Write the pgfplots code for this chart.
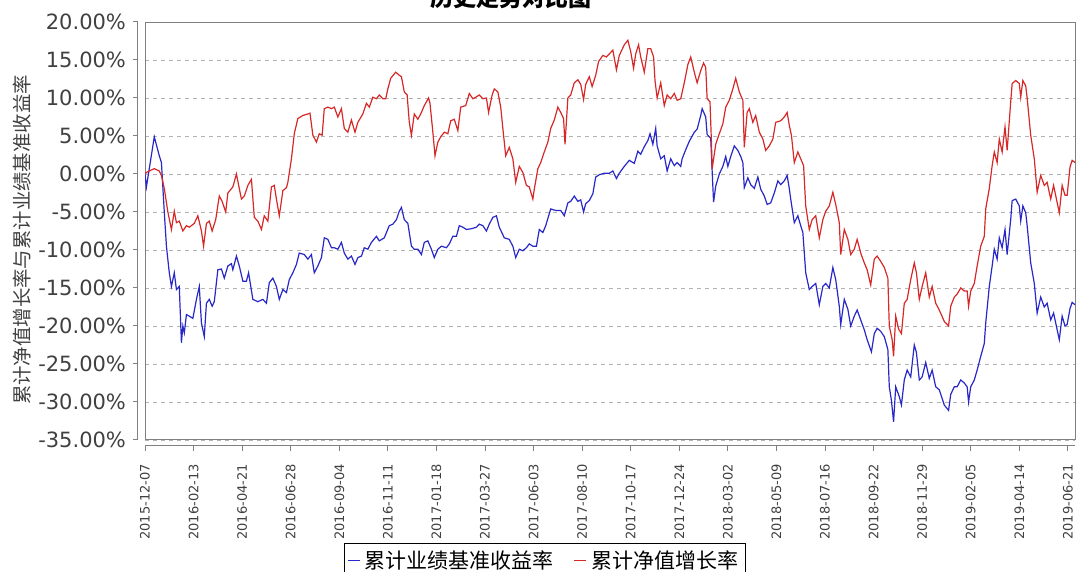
\documentclass[border=0pt]{standalone}
\usepackage{fontspec}
\setmainfont{DejaVu Sans}
\newfontfamily\cjk{Noto Sans CJK SC}
\usepackage{pgfplots}
\pgfplotsset{compat=1.18}

\definecolor{benchblue}{RGB}{40,40,200}
\definecolor{navred}{RGB}{215,40,40}
\definecolor{framegray}{RGB}{128,128,128}
\definecolor{labelgray}{RGB}{64,64,64}

% 1 px of the source = 0.5pt
\pgfplotsset{
  common/.style={
    scale only axis, width=465pt, height=209pt,
    xmin=0, xmax=1302, ymin=-35, ymax=20,
  },
}

\begin{document}
\begin{tikzpicture}
\path[use as bounding box] (0,0) rectangle (538.5pt,286pt);

% title (top is cut off, as in the source)
\node[anchor=base, font=\cjk\bfseries\fontsize{11.5}{13}\selectfont] at (255.5pt,282.5pt) {历史走势对比图};

% y axis label
\node[rotate=90, text=labelgray, font=\cjk\fontsize{9.7}{11}\selectfont] at (11pt,166pt) {累计净值增长率与累计业绩基准收益率};

% plot area with data
\begin{axis}[
  common,
  at={(72.5pt,66pt)}, anchor=south west,
  xtick=\empty,
  ytick={-35,-30,...,20}, yticklabels={},
  major tick length=0pt,
  ymajorgrids,
  grid style={framegray!60, dash pattern=on 2pt off 2pt, line width=0.4pt},
  axis line style={framegray, line width=0.5pt},
  legend columns=2,
  legend style={at={(0.43,-0.246)}, anchor=north, draw=black, line width=0.5pt,
    font=\cjk\fontsize{10.5}{12.5}\selectfont, inner sep=1.5pt,
    /tikz/every even column/.append style={column sep=8pt}},
  legend image code/.code={\draw[#1] (0pt,0pt) -- (6pt,0pt);},
]
% 累计业绩基准收益率 (x = days after 2015-12-07)
\addplot[benchblue, line width=0.6pt] coordinates {
(0,0.0) (2,-1.7) (13,4.9) (20,2.4) (23,1.5) (27,-5.0) (30,-9.5) (34,-13.0) (37,-14.8) (41,-13.0) (44,-15.2) (48,-14.8) (51,-22.2) (53,-20.0) (55,-20.9) (58,-18.5) (62,-18.7) (67,-19.0) (72,-16.5) (76,-14.8) (79,-19.6) (83,-21.4) (86,-17.0) (90,-16.5) (94,-17.4) (97,-16.8) (102,-12.6) (107,-12.5) (111,-13.7) (116,-12.1) (121,-11.8) (123,-12.6) (128,-10.8) (132,-12.1) (137,-14.1) (142,-14.1) (145,-13.0) (151,-16.5) (158,-16.8) (165,-16.5) (170,-17.0) (174,-14.3) (179,-13.7) (184,-14.8) (188,-16.5) (193,-15.2) (198,-15.6) (202,-13.9) (207,-13.0) (212,-11.9) (216,-10.4) (223,-10.6) (228,-11.2) (233,-10.6) (237,-13.0) (242,-12.1) (247,-11.0) (251,-8.4) (256,-8.6) (261,-9.7) (265,-9.7) (270,-9.9) (275,-9.0) (279,-10.4) (284,-11.2) (289,-10.8) (294,-11.9) (298,-11.0) (303,-10.8) (307,-9.7) (312,-9.9) (317,-9.0) (324,-8.2) (328,-8.8) (335,-8.4) (342,-6.8) (347,-6.6) (352,-6.0) (356,-4.9) (359,-4.4) (363,-6.0) (368,-6.5) (373,-9.5) (377,-9.9) (382,-9.9) (387,-10.6) (391,-9.0) (396,-8.8) (401,-9.9) (405,-11.0) (410,-9.9) (415,-9.5) (422,-9.7) (426,-9.2) (431,-8.2) (436,-8.2) (440,-6.8) (445,-7.0) (450,-7.3) (457,-7.2) (464,-7.0) (468,-6.6) (473,-6.8) (478,-7.5) (482,-6.6) (487,-5.7) (492,-5.5) (496,-7.0) (503,-8.4) (510,-8.6) (515,-9.5) (519,-11.0) (524,-9.9) (529,-10.1) (534,-9.7) (538,-9.2) (543,-9.5) (548,-9.5) (552,-7.3) (557,-7.7) (561,-6.8) (568,-4.6) (575,-4.8) (582,-4.8) (587,-5.5) (592,-3.8) (596,-3.6) (601,-2.9) (606,-3.6) (610,-3.4) (614,-5.0) (617,-3.9) (622,-3.5) (627,-2.6) (631,-0.4) (636,-0.1) (643,0.1) (650,0.1) (655,0.4) (660,-0.6) (664,0.1) (671,1.0) (678,1.8) (685,1.4) (690,3.0) (694,2.6) (699,3.6) (704,4.4) (707,5.3) (711,3.9) (715,6.0) (717,3.7) (722,2.0) (727,2.4) (731,0.4) (736,2.0) (741,1.1) (745,1.5) (750,1.0) (752,2.0) (757,3.2) (762,4.3) (769,5.5) (773,5.9) (778,7.7) (780,8.6) (785,7.5) (787,5.2) (792,4.7) (794,0.4) (796,-3.7) (799,-1.6) (804,0.0) (809,1.0) (813,2.3) (816,1.0) (820,2.3) (825,3.7) (830,3.1) (834,2.3) (837,1.5) (839,-1.8) (844,-0.5) (848,-1.4) (853,-1.9) (858,-0.4) (862,-2.0) (867,-2.9) (871,-4.0) (876,-3.8) (881,-2.5) (886,-0.9) (890,-1.4) (895,-0.9) (899,-0.2) (902,-1.9) (904,-3.3) (909,-6.4) (914,-5.5) (918,-6.8) (921,-7.7) (925,-13.0) (930,-15.2) (934,-14.8) (939,-14.4) (944,-17.2) (949,-14.8) (953,-14.4) (958,-15.0) (963,-12.3) (967,-13.9) (972,-17.4) (974,-19.8) (979,-16.5) (984,-17.8) (988,-20.0) (993,-18.7) (997,-17.9) (1002,-19.2) (1007,-20.5) (1011,-21.8) (1017,-23.4) (1021,-21.0) (1025,-20.3) (1030,-20.7) (1035,-21.4) (1040,-23.1) (1042,-28.0) (1045,-29.8) (1048,-32.6) (1051,-28.0) (1056,-29.3) (1059,-30.4) (1063,-27.1) (1067,-25.8) (1072,-26.7) (1077,-22.5) (1080,-23.5) (1084,-27.1) (1088,-26.7) (1093,-24.8) (1098,-26.9) (1102,-25.8) (1107,-28.0) (1112,-28.4) (1119,-30.4) (1125,-31.1) (1128,-29.0) (1133,-28.0) (1137,-28.0) (1142,-27.1) (1147,-27.5) (1151,-28.0) (1153,-30.0) (1156,-28.0) (1161,-27.1) (1165,-25.8) (1170,-24.0) (1175,-22.3) (1177,-19.6) (1182,-14.8) (1186,-12.1) (1189,-9.9) (1193,-11.2) (1196,-8.4) (1200,-9.7) (1204,-7.3) (1207,-10.6) (1212,-6.0) (1214,-3.5) (1219,-3.3) (1224,-4.2) (1226,-6.2) (1229,-4.2) (1233,-5.1) (1235,-6.8) (1240,-11.7) (1245,-14.4) (1249,-18.3) (1254,-16.2) (1259,-17.5) (1263,-17.0) (1268,-19.2) (1272,-18.3) (1280,-21.8) (1284,-18.7) (1288,-20.0) (1291,-19.8) (1295,-17.7) (1298,-16.9) (1302,-17.2)
};
\addlegendentry{累计业绩基准收益率}
% 累计净值增长率
\addplot[navred, line width=0.6pt] coordinates {
(0,0.0) (2,0.2) (6,0.4) (13,0.7) (20,0.4) (23,-0.2) (27,-1.9) (32,-5.0) (37,-7.3) (41,-4.9) (44,-6.4) (48,-6.2) (53,-7.5) (58,-6.8) (62,-7.0) (69,-6.5) (74,-5.5) (79,-7.5) (82,-9.5) (86,-6.5) (90,-6.2) (94,-7.5) (99,-6.0) (104,-2.9) (108,-3.6) (113,-5.0) (116,-2.5) (123,-1.7) (128,0.0) (132,-1.9) (135,-3.3) (139,-2.9) (144,-1.5) (149,-0.7) (153,-5.7) (158,-6.2) (163,-7.3) (167,-5.5) (172,-6.2) (177,-1.7) (181,-1.5) (184,-3.3) (188,-5.5) (193,-2.2) (198,-1.8) (200,-1.1) (205,2.0) (209,5.3) (214,7.3) (221,7.7) (228,7.9) (231,8.0) (235,5.1) (240,4.2) (244,5.3) (248,5.1) (251,8.6) (256,8.8) (261,8.6) (265,8.8) (270,7.5) (275,8.6) (279,6.0) (284,5.5) (289,7.1) (294,5.5) (298,6.8) (305,7.9) (310,9.3) (314,8.8) (319,10.1) (324,9.9) (328,10.4) (333,9.9) (337,9.9) (340,11.2) (344,12.6) (351,13.4) (356,13.0) (359,12.8) (363,10.8) (367,10.4) (370,6.8) (373,5.1) (377,7.9) (382,7.2) (387,8.1) (391,9.0) (397,10.0) (399,9.3) (403,5.5) (406,2.4) (410,4.2) (414,4.9) (419,5.5) (424,5.3) (428,7.0) (433,7.2) (438,5.7) (442,8.8) (449,9.0) (454,10.6) (459,9.9) (463,10.1) (468,10.4) (473,9.9) (478,10.0) (481,8.1) (486,10.4) (489,11.2) (494,10.8) (498,8.8) (501,6.0) (505,2.4) (510,3.5) (515,2.0) (519,-1.1) (524,1.0) (529,0.2) (534,-1.5) (538,-1.7) (543,-3.3) (545,-2.0) (550,0.7) (554,1.5) (559,2.9) (564,4.2) (568,6.0) (573,7.1) (578,8.8) (582,8.1) (586,7.3) (588,3.9) (592,10.0) (596,10.4) (601,12.0) (606,12.4) (610,11.8) (614,9.8) (617,11.8) (622,12.8) (626,11.5) (631,13.0) (635,14.8) (641,15.6) (646,15.4) (650,15.8) (655,16.3) (660,13.7) (664,15.6) (671,17.0) (676,17.6) (680,16.1) (684,13.9) (687,15.8) (691,17.0) (694,15.4) (699,13.4) (704,16.5) (708,16.5) (712,15.4) (714,12.3) (717,10.0) (722,12.0) (727,9.0) (731,10.4) (736,9.9) (741,10.6) (745,9.7) (750,9.9) (755,12.0) (760,14.4) (764,15.4) (769,13.4) (773,12.0) (778,13.6) (782,14.6) (785,14.0) (787,9.9) (791,9.5) (793,4.2) (794,0.7) (799,3.9) (804,5.3) (809,6.6) (813,8.8) (818,9.7) (823,11.2) (827,12.6) (832,10.8) (837,9.7) (839,3.5) (843,8.1) (846,8.6) (851,6.8) (855,7.7) (860,5.5) (865,4.6) (869,3.1) (874,3.7) (879,4.6) (883,6.8) (890,7.0) (895,7.5) (899,8.1) (902,6.4) (905,5.1) (909,1.5) (914,2.9) (918,2.0) (922,1.1) (925,-4.2) (930,-7.3) (934,-6.0) (939,-5.5) (944,-8.4) (949,-6.0) (953,-4.9) (958,-4.2) (963,-2.4) (967,-4.0) (972,-6.4) (974,-10.6) (979,-7.3) (984,-8.6) (988,-10.6) (993,-9.9) (997,-8.6) (1002,-10.4) (1007,-11.7) (1011,-12.6) (1016,-14.6) (1021,-11.2) (1025,-10.8) (1030,-11.5) (1035,-12.3) (1040,-13.7) (1042,-20.0) (1046,-21.8) (1048,-24.0) (1051,-18.7) (1055,-20.4) (1059,-21.0) (1063,-17.0) (1067,-16.5) (1072,-13.9) (1077,-11.7) (1080,-13.0) (1084,-16.5) (1088,-14.8) (1093,-13.0) (1098,-16.2) (1102,-14.8) (1107,-17.0) (1112,-17.9) (1119,-19.4) (1125,-20.0) (1128,-17.4) (1133,-16.2) (1137,-15.8) (1142,-15.0) (1147,-15.4) (1151,-15.4) (1153,-17.4) (1156,-15.4) (1161,-14.4) (1165,-12.1) (1170,-9.5) (1175,-8.2) (1177,-4.6) (1182,-1.9) (1186,1.1) (1189,2.9) (1193,1.5) (1196,4.6) (1200,2.9) (1204,6.2) (1207,3.1) (1212,9.5) (1214,11.9) (1219,12.3) (1224,11.9) (1226,10.1) (1229,12.3) (1233,11.6) (1235,10.0) (1240,5.1) (1245,2.0) (1249,-2.4) (1254,-0.2) (1259,-1.5) (1263,-1.1) (1268,-3.3) (1272,-1.5) (1280,-5.1) (1284,-1.5) (1288,-2.8) (1291,-2.8) (1295,0.9) (1298,1.8) (1302,1.5)
};
\addlegendentry{累计净值增长率}
\end{axis}

% offset y axis (left)
\begin{axis}[
  common,
  at={(69pt,66pt)}, anchor=south west,
  axis x line=none, axis y line*=left,
  y axis line style={framegray, line width=0.5pt, -},
  ytick={-35,-30,...,20},
  yticklabels={-35.00\%,-30.00\%,-25.00\%,-20.00\%,-15.00\%,-10.00\%,-5.00\%,0.00\%,5.00\%,10.00\%,15.00\%,20.00\%},
  tick align=outside, major tick length=2.5pt,
  ytick style={framegray, line width=0.5pt},
  yticklabel style={text=labelgray, font=\fontsize{10.5}{12}\selectfont},
]
\end{axis}

% offset x axis (bottom)
\begin{axis}[
  common,
  at={(72.5pt,63pt)}, anchor=south west,
  axis y line=none, axis x line*=bottom,
  x axis line style={framegray, line width=0.5pt, -},
  xtick={0,68,...,1292},
  xticklabels={2015-12-07,2016-02-13,2016-04-21,2016-06-28,2016-09-04,2016-11-11,2017-01-18,2017-03-27,2017-06-03,2017-08-10,2017-10-17,2017-12-24,2018-03-02,2018-05-09,2018-07-16,2018-09-22,2018-11-29,2019-02-05,2019-04-14,2019-06-21},
  tick align=outside, major tick length=2.5pt,
  xtick style={framegray, line width=0.5pt},
  xticklabel shift=3pt,
  xticklabel style={rotate=90, anchor=east, text=labelgray, font=\fontsize{6.5}{7}\selectfont},
]
\end{axis}
\end{tikzpicture}
\end{document}
